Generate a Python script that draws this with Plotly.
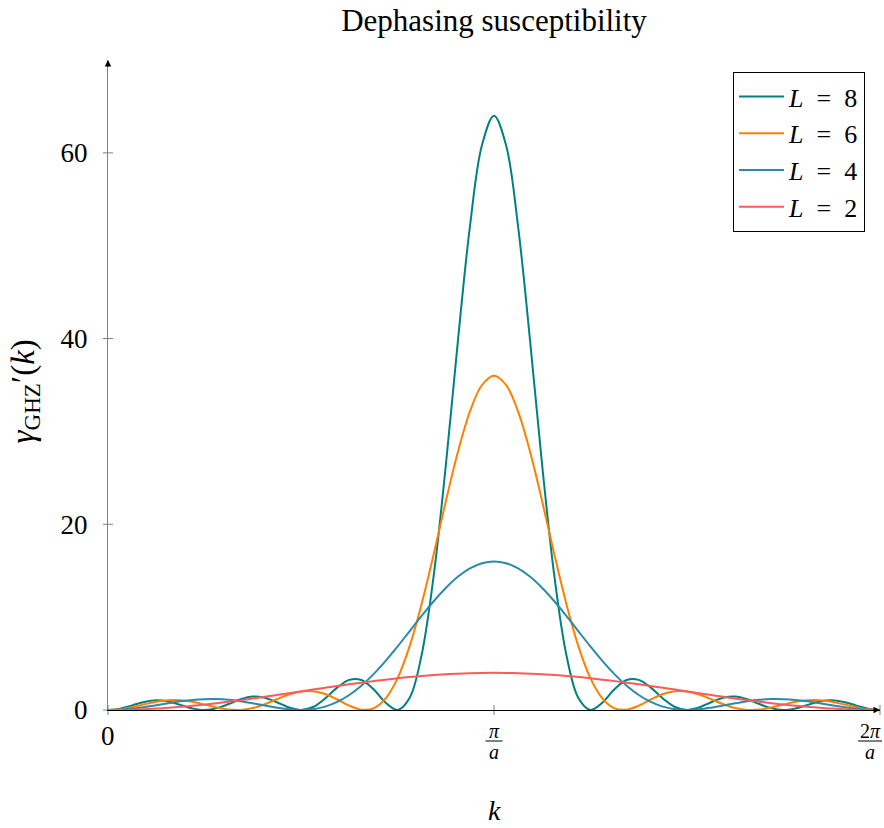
import plotly.graph_objects as go

# k in units of pi/a, sampled every 1/32
k = [i / 32 for i in range(65)]

gamma_L8 = [0.0, 0.15, 0.50, 0.87, 1.04, 0.91, 0.55, 0.17, 0.0, 0.18, 0.64, 1.16, 1.45, 1.32, 0.84, 0.27,
            0.0, 0.32, 1.24, 2.41, 3.24, 3.23, 2.25, 0.80, 0.0, 1.29, 5.93, 14.46, 26.27, 39.64, 52.04, 60.83,
            64.0,
            60.83, 52.04, 39.64, 26.27, 14.46, 5.93, 1.29, 0.0, 0.80, 2.25, 3.23, 3.24, 2.41, 1.24, 0.32, 0.0,
            0.27, 0.84, 1.32, 1.45, 1.16, 0.64, 0.18, 0.0, 0.17, 0.55, 0.91, 1.04, 0.87, 0.50, 0.15, 0.0]

gamma_L6 = [0.0, 0.08, 0.31, 0.61, 0.89, 1.05, 1.05, 0.88, 0.59, 0.27, 0.05, 0.01, 0.21, 0.62, 1.16, 1.67,
            2.00, 2.03, 1.72, 1.13, 0.47, 0.04, 0.17, 1.22, 3.41, 6.85, 11.42, 16.78, 22.43, 27.75, 32.13, 35.0,
            36.0,
            35.0, 32.13, 27.75, 22.43, 16.78, 11.42, 6.85, 3.41, 1.22, 0.17, 0.04, 0.47, 1.13, 1.72, 2.03, 2.00,
            1.67, 1.16, 0.62, 0.21, 0.01, 0.05, 0.27, 0.59, 0.88, 1.05, 1.05, 0.89, 0.61, 0.31, 0.08, 0.0]

gamma_L4 = [0.0, 0.04, 0.15, 0.32, 0.52, 0.73, 0.93, 1.09, 1.17, 1.18, 1.10, 0.94, 0.72, 0.48, 0.25, 0.07,
            0.0, 0.08, 0.36, 0.87, 1.62, 2.62, 3.84, 5.26, 6.83, 8.48, 10.13, 11.71, 13.14, 14.34, 15.24, 15.81,
            16.0,
            15.81, 15.24, 14.34, 13.14, 11.71, 10.13, 8.48, 6.83, 5.26, 3.84, 2.62, 1.62, 0.87, 0.36, 0.08, 0.0,
            0.07, 0.25, 0.48, 0.72, 0.94, 1.10, 1.18, 1.17, 1.09, 0.93, 0.73, 0.52, 0.32, 0.15, 0.04, 0.0]

gamma_L2 = [0.0, 0.01, 0.04, 0.09, 0.15, 0.24, 0.34, 0.45, 0.59, 0.73, 0.89, 1.06, 1.24, 1.42, 1.61, 1.80,
            2.00, 2.20, 2.39, 2.58, 2.77, 2.94, 3.11, 3.27, 3.41, 3.55, 3.66, 3.76, 3.85, 3.91, 3.96, 3.99,
            4.0,
            3.99, 3.96, 3.91, 3.85, 3.76, 3.66, 3.55, 3.41, 3.27, 3.11, 2.94, 2.77, 2.58, 2.39, 2.20, 2.00,
            1.80, 1.61, 1.42, 1.24, 1.06, 0.89, 0.73, 0.59, 0.45, 0.34, 0.24, 0.15, 0.09, 0.04, 0.01, 0.0]

series_names = ["<i>L</i>\u2002=\u20028", "<i>L</i>\u2002=\u20026", "<i>L</i>\u2002=\u20024", "<i>L</i>\u2002=\u20022"]
series_values = [gamma_L8, gamma_L6, gamma_L4, gamma_L2]
series_colors = ["#008080", "#FF8000", "#2A8BAA", "#FF5A5A"]

y_ticks = [0, 20, 40, 60]
x_ticks = [0, 1, 2]
X_MAX = 2
Y_MAX = 70

FONT = "Liberation Serif"

fig = go.Figure()
for name, vals, col in zip(series_names, series_values, series_colors):
    fig.add_trace(go.Scatter(x=k, y=vals, mode="lines", name=name,
                             line=dict(color=col, width=2, shape="spline", smoothing=1)))

shapes = []
for t in y_ticks:
    shapes.append(dict(type="line", xref="paper", yref="paper", xsizemode="pixel", xanchor=0,
                       x0=-5, x1=5, y0=t / Y_MAX, y1=t / Y_MAX, line=dict(color="#808080", width=1),
                       layer="below"))
for t in x_ticks:
    shapes.append(dict(type="line", xref="paper", yref="paper", ysizemode="pixel", yanchor=0,
                       y0=-5, y1=5, x0=t / X_MAX, x1=t / X_MAX, line=dict(color="#808080", width=1),
                       layer="below"))
# fraction bars for pi/a and 2pi/a tick labels
shapes.append(dict(type="line", xref="paper", yref="paper", xsizemode="pixel", ysizemode="pixel",
                   xanchor=0.5, yanchor=0, x0=-8.5, x1=8.5, y0=-31, y1=-31,
                   line=dict(color="black", width=1)))
shapes.append(dict(type="line", xref="paper", yref="paper", xsizemode="pixel", ysizemode="pixel",
                   xanchor=1.0, yanchor=0, x0=-22, x1=2, y0=-31, y1=-31,
                   line=dict(color="black", width=1)))

ann = []
# axis arrows
ann.append(dict(x=0, y=Y_MAX, xref="x", yref="y", ax=0, ay=8,
                showarrow=True, arrowhead=2, arrowsize=1.3, arrowwidth=1, arrowcolor="black", text=""))
ann.append(dict(x=X_MAX, y=0, xref="x", yref="y", ax=-8, ay=0,
                showarrow=True, arrowhead=2, arrowsize=1.3, arrowwidth=1, arrowcolor="black", text=""))
# x tick labels
ann.append(dict(x=0, y=0, xref="x", yref="y", text="0", showarrow=False, yshift=-26,
                font=dict(family=FONT, size=27, color="black")))
ann.append(dict(x=1, y=0, xref="x", yref="y", text="<i>π</i>", showarrow=False, yshift=-21,
                font=dict(family=FONT, size=20, color="black")))
ann.append(dict(x=1, y=0, xref="x", yref="y", text="<i>a</i>", showarrow=False, yshift=-42,
                font=dict(family=FONT, size=20, color="black")))
ann.append(dict(x=2, y=0, xref="x", yref="y", text="2<i>π</i>", showarrow=False, yshift=-21, xshift=-10,
                font=dict(family=FONT, size=20, color="black")))
ann.append(dict(x=2, y=0, xref="x", yref="y", text="<i>a</i>", showarrow=False, yshift=-42, xshift=-10,
                font=dict(family=FONT, size=20, color="black")))
# axis titles
ann.append(dict(x=1, y=-0.154, xref="x", yref="paper", text="<i>k</i>", showarrow=False,
                xanchor="center", yanchor="middle",
                font=dict(family=FONT, size=28, color="black")))
ann.append(dict(x=-0.1075, y=0.49, xref="paper", yref="paper",
                text="<i>γ</i><sub>GHZ</sub>′(<i>k</i>)", textangle=-90, showarrow=False,
                xanchor="center", yanchor="middle",
                font=dict(family=FONT, size=33, color="black")))

fig.update_layout(
    width=884, height=828,
    margin=dict(l=108, r=4, t=60, b=118),
    paper_bgcolor="white", plot_bgcolor="white",
    title=dict(text="Dephasing susceptibility", x=(494 / 884), xanchor="center",
               y=1 - 20 / 828, yanchor="middle", yref="container",
               font=dict(family=FONT, size=31, color="black")),
    xaxis=dict(range=[0, X_MAX], showgrid=False, zeroline=False, showline=True, linecolor="black",
               linewidth=1, ticks="", showticklabels=False, layer="below traces", fixedrange=True),
    yaxis=dict(range=[0, Y_MAX], showgrid=False, zeroline=False, showline=True, linecolor="#808080",
               linewidth=1, ticks="", tickvals=y_ticks, ticktext=[str(v) for v in y_ticks],
               ticklabelstandoff=14, tickfont=dict(family=FONT, size=27, color="black"),
               layer="below traces", fixedrange=True),
    legend=dict(x=0.9806, y=0.9815, xanchor="right", yanchor="top",
                bordercolor="black", borderwidth=1, bgcolor="white", itemwidth=45,
                font=dict(family=FONT, size=26, color="black"), tracegroupgap=0),
    shapes=shapes,
    annotations=ann,
    showlegend=True,
)

fig.write_html("out.html")
